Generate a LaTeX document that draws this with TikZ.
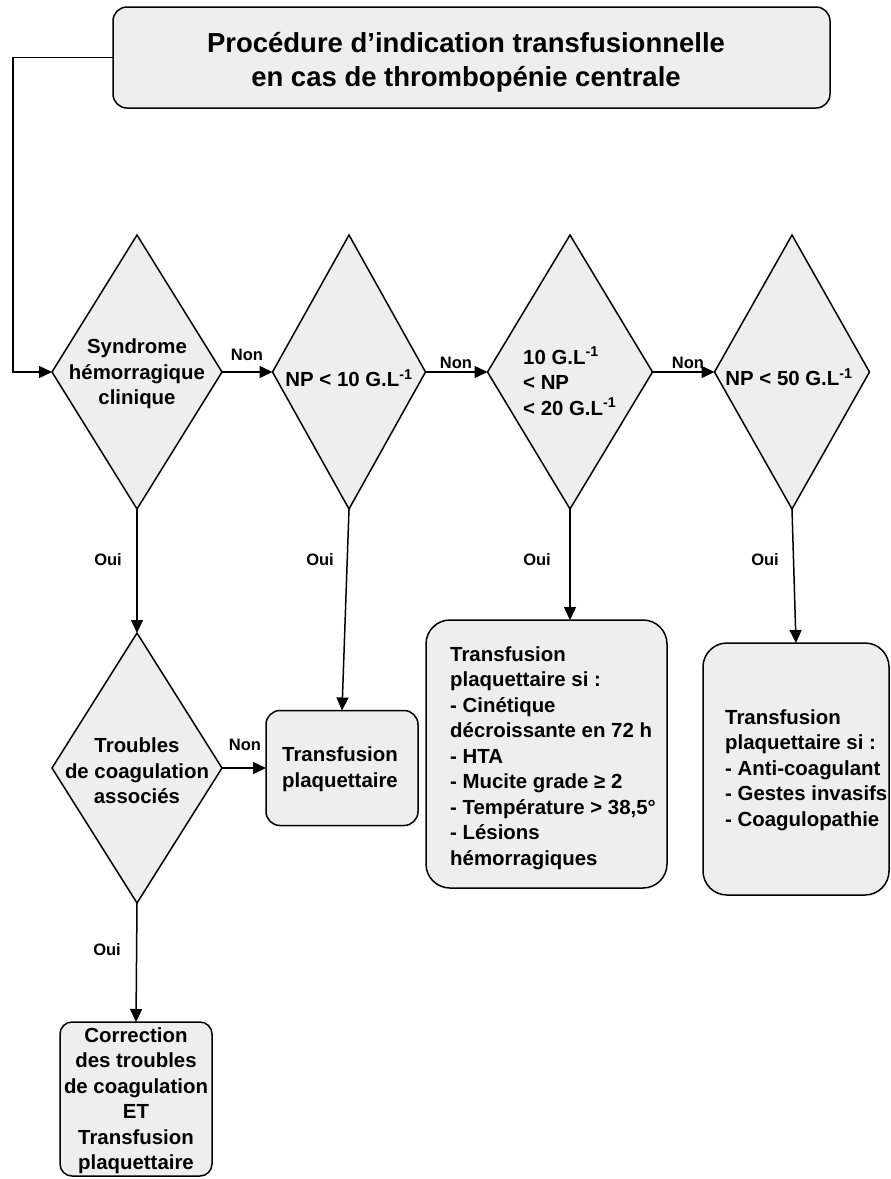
\documentclass[tikz,border=0pt]{standalone}
\usepackage{fontspec}
\setmainfont{Liberation Sans}
\usetikzlibrary{shapes.geometric,arrows.meta}
\definecolor{boxfill}{HTML}{EEEEEE}
\begin{document}
\begin{tikzpicture}[x=1pt,y=-1pt,
  dia/.style={diamond, draw, line width=1.5pt, fill=boxfill, inner sep=0pt, outer sep=0pt},
  rbox/.style={draw, line width=1.5pt, fill=boxfill, rounded corners=14pt, inner sep=0pt, outer sep=0pt},
  body/.style={font=\bfseries\fontsize{20.4}{25.5}\selectfont, align=center, inner sep=0pt},
  lbody/.style={body, align=left, anchor=west},
  lab/.style={font=\bfseries\fontsize{16.5}{20}\selectfont, inner sep=0pt},
  arr/.style={line width=1.5pt, -{Triangle[length=13pt,width=12pt]}},
]
\useasboundingbox[fill=white] (0,0) rectangle (891,1179);

% title
\node[rbox, minimum width=717pt, minimum height=101pt] (title) at (471.5,57.5) {};
\node[font=\bfseries\fontsize{27.5}{34}\selectfont, align=center, inner sep=0pt] (ttl) at (466,62)
  {Procédure d’indication transfusionnelle\\en cas de thrombopénie centrale};

% diamonds
\node[dia, minimum width=170pt, minimum height=274pt] (d1) at (137,372) {};
\node[dia, minimum width=153pt, minimum height=274pt] (d2) at (349,372) {};
\node[dia, minimum width=165pt, minimum height=274pt] (d3) at (570,372) {};
\node[dia, minimum width=155pt, minimum height=274pt] (d4) at (792,372) {};
\node[dia, minimum width=170pt, minimum height=270pt] (d5) at (137,768) {};

\node[body] (t1) at (137,374) {Syndrome\\hémorragique\\clinique};
\node[body] (t2) at (349,378) {NP < 10 G.L\textsuperscript{-1}};
\node[lbody] (t3) at (523,381) {10 G.L\textsuperscript{-1}\\< NP\\< 20 G.L\textsuperscript{-1}};
\node[body] (t4) at (789,377) {NP < 50 G.L\textsuperscript{-1}};
\node[body] (t5) at (137,771) {Troubles\\de coagulation\\associés};

% boxes
\node[rbox, minimum width=152pt, minimum height=115pt] (tp) at (342,768) {};
\node[body] (tpt) at (340,769) {Transfusion\\plaquettaire};

\node[rbox, rounded corners=24pt, minimum width=241pt, minimum height=268pt] (b3) at (546.5,754) {};
\node[lbody] (b3t) at (450,758) {Transfusion\\plaquettaire si :\\- Cinétique\\décroissante en 72 h\\- HTA\\- Mucite grade ≥ 2\\- Température > 38,5°\\- Lésions\\hémorragiques};

\node[rbox, rounded corners=24pt, minimum width=186pt, minimum height=252pt] (b4) at (796,769) {};
\node[lbody] (b4t) at (725,770) {Transfusion\\plaquettaire si :\\- Anti-coagulant\\- Gestes invasifs\\- Coagulopathie};

\node[rbox, rounded corners=12pt, minimum width=152pt, minimum height=154pt] (fin) at (136,1099) {};
\node[body] (fint) at (136,1100.5) {Correction\\des troubles\\de coagulation\\ET\\Transfusion\\plaquettaire};

% connectors
\draw[arr] (title.west) -- ++(-100,0) |- (d1.west);
\draw[arr] (d1.east) -- (d2.west);
\draw[arr] (d2.east) -- (d3.west);
\draw[arr] (d3.east) -- (d4.west);
\draw[arr] (d1.south) -- (d5.north);
\draw[arr] (d5.east) -- (tp.west);
\draw[arr] (d5.south) -- (fin.north);
\draw[arr] (d2.south) -- (tp.north);
\draw[arr] (d3.south) -- (d3.south |- b3.north);
\draw[arr] (d4.south) -- (b4.north);

% labels
\node[lab] (n1) at (247,355) {Non};
\node[lab] (n2) at (456,363) {Non};
\node[lab] (n3) at (688,363) {Non};
\node[lab] (n5) at (245,745) {Non};
\node[lab] (o1) at (108,560) {Oui};
\node[lab] (o2) at (320,560) {Oui};
\node[lab] (o3) at (537,560) {Oui};
\node[lab] (o4) at (765,560) {Oui};
\node[lab] (o5) at (107,950) {Oui};
\end{tikzpicture}
\end{document}
